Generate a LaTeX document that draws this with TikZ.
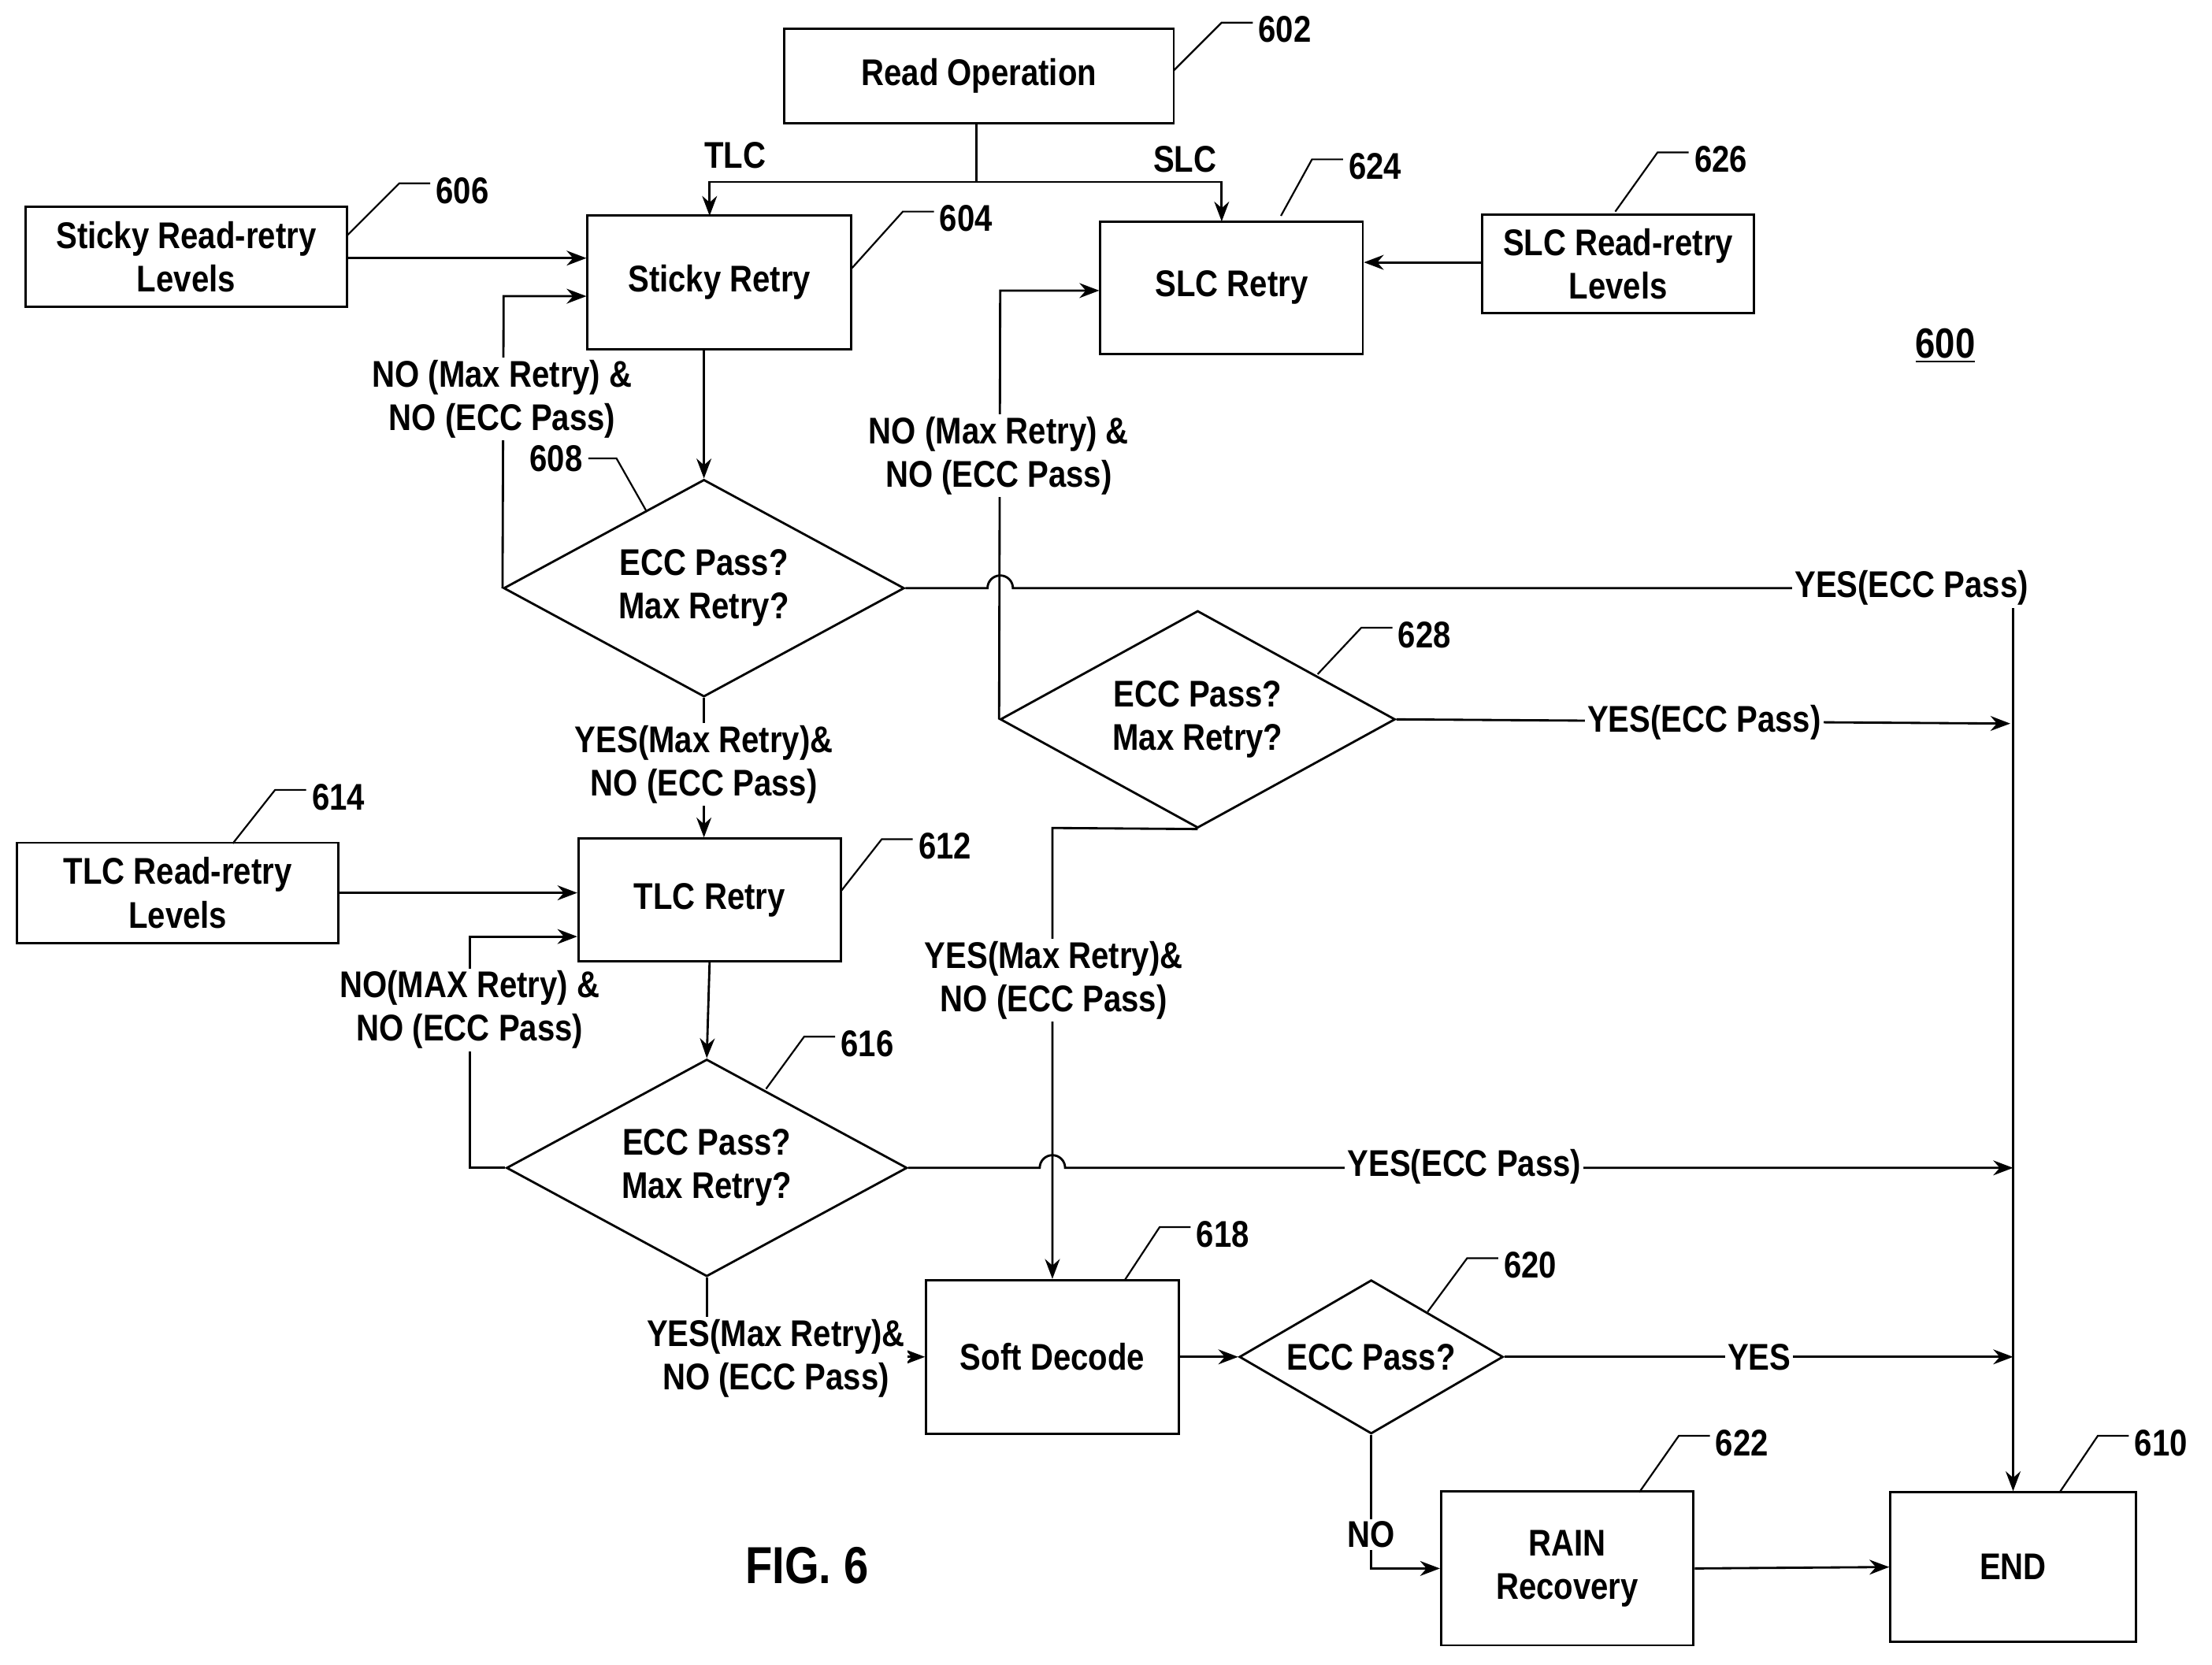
\documentclass[tikz,border=0pt]{standalone}
\usepackage{fontspec}
\setmainfont{Liberation Sans}[FakeStretch=0.85]
\usetikzlibrary{arrows.meta,shapes.geometric}
\begin{document}
\begin{tikzpicture}[x=0.02cm,y=-0.02cm,line width=0.9pt,
  font=\fontsize{15}{17.5}\selectfont\bfseries,
  box/.style={draw,rectangle,align=center},
  dec/.style={draw,diamond,aspect=1.85,align=center,inner sep=0pt},
  lbl/.style={fill=white,align=center,inner sep=1pt},
  arr/.style={-{Stealth[length=8pt,width=6pt]}}]
\useasboundingbox (0,0) rectangle (1568,1180);

% boxes
\node[box,minimum width=276*0.02cm,minimum height=67*0.02cm] (read) at (694,54) {Read Operation};
\node[box,minimum width=187*0.02cm,minimum height=95*0.02cm] (sticky) at (510,200) {Sticky Retry};
\node[box,minimum width=186*0.02cm,minimum height=94*0.02cm] (slc) at (873,204) {SLC Retry};
\node[box,minimum width=228*0.02cm,minimum height=71*0.02cm] (stlev) at (132,182) {Sticky Read-retry\\Levels};
\node[box,minimum width=193*0.02cm,minimum height=70*0.02cm] (slclev) at (1147,187) {SLC Read-retry\\Levels};
\node[box,minimum width=186*0.02cm,minimum height=87*0.02cm] (tlc) at (503,638) {TLC Retry};
\node[box,minimum width=228*0.02cm,minimum height=71*0.02cm] (tlclev) at (126,633) {TLC Read-retry\\Levels};
\node[box,minimum width=179*0.02cm,minimum height=109*0.02cm] (soft) at (746,962) {Soft Decode};
\node[box,minimum width=179*0.02cm,minimum height=109*0.02cm] (rain) at (1111,1112) {RAIN\\Recovery};
\node[box,minimum width=174*0.02cm,minimum height=106*0.02cm] (end) at (1427,1111) {END};

% decisions
\node[dec,minimum width=284*0.02cm,minimum height=154*0.02cm] (d608) at (499,417) {ECC Pass?\\Max Retry?};
\node[dec,minimum width=280*0.02cm,minimum height=154*0.02cm] (d628) at (849,510) {ECC Pass?\\Max Retry?};
\node[dec,minimum width=284*0.02cm,minimum height=154*0.02cm] (d616) at (501,828) {ECC Pass?\\Max Retry?};
\node[dec,minimum width=187*0.02cm,minimum height=109*0.02cm,aspect=1.7] (d620) at (972,962) {ECC Pass?};

\node[font=\fontsize{17}{20}\selectfont\bfseries] (fig) at (1379,245) {\underline{600}};
\node[font=\fontsize{21}{25}\selectfont\bfseries] (figno) at (572,1110) {FIG. 6};

% connectors
\coordinate (split) at (692,129);
\draw (read.south -| split) -- (split);
\draw[arr] (split) -- (503,129) -- (503,153);
\draw[arr] (split) -- (866,129) -- (866,157);
\node (ltlc) at (521,110) {TLC};
\node (lslc) at (840,113) {SLC};
\draw[arr] (stlev.east |- 0,183) -- (sticky.west |- 0,183);
\draw[arr] (slclev.west |- 0,186) -- (slc.east |- 0,186);
\draw[arr] (499,248) -- (d608.north);
\draw[arr] (d608.west) -- (357,210) -- (sticky.west |- 0,210);
\node[lbl] (l1) at (356,283) {NO (Max Retry) \&\\NO (ECC Pass)};
\draw (d608.east) -- (700,417) arc[start angle=180,end angle=360,radius=9] -- (1427,417);
\draw[arr] (1427,417) -- (end.north);
\node[lbl] (l2) at (1355,417) {YES(ECC Pass)};
\draw[arr] (d608.south) -- (tlc.north -| d608.south);
\node[lbl] (l3) at (499,542) {YES(Max Retry)\&\\NO (ECC Pass)};
\draw[arr] (d628.west) -- (709,206) -- (slc.west |- 0,206);
\node[lbl] (l4) at (708,323) {NO (Max Retry) \&\\NO (ECC Pass)};
\draw[arr] (d628.east) -- (1425,513);
\node[lbl] (l5) at (1208,512) {YES(ECC Pass)};
\draw[arr] (d628.south) -- (746,587) -- (soft.north);
\node[lbl] (l6) at (747,695) {YES(Max Retry)\&\\NO (ECC Pass)};
\draw[arr] (tlclev.east |- 0,633) -- (tlc.west |- 0,633);
\draw[arr] (503,682) -- (d616.north);
\draw[arr] (d616.west) -- (333,828) -- (333,664) -- (tlc.west |- 0,664);
\node[lbl] (l7) at (333,716) {NO(MAX Retry) \&\\NO (ECC Pass)};
\draw[arr] (d616.east) -- (737,828) arc[start angle=180,end angle=360,radius=9] -- (1427,828);
\node[lbl] (l8) at (1038,827) {YES(ECC Pass)};
\draw[arr] (d616.south) |- (soft.west);
\node[lbl] (l9) at (550,963) {YES(Max Retry)\&\\NO (ECC Pass)};
\draw[arr] (soft.east) -- (d620.west);
\draw[arr] (d620.east) -- (1427,962);
\node[lbl] (l10) at (1247,962) {YES};
\draw[arr] (d620.south) |- (rain.west);
\node[lbl] (l11) at (972,1088) {NO};
\draw[arr] (rain.east) -- (end.west);

% reference numerals
\foreach \sx/\sy/\ex/\ey/\tx/\ty/\t in {832/50/866/16/915/22/602, 604/190/640/150/685/155/604,
  246/167/283/130/333/137/606, 908/153/930/113/987/119/624, 1145/150/1175/108/1224/115/626,
  934/478/965/445/1013/450/628, 165/598/195/560/243/566/614, 596/632/625/595/675/600/612,
  543/772/570/735/621/740/616, 797/908/822/870/875/875/618, 1012/930/1040/892/1090/897/620,
  1162/1058/1190/1018/1240/1024/622, 1460/1058/1487/1018/1538/1024/610}
  \draw[line width=0.7pt] (\sx,\sy) -- (\ex,\ey) -- ++(22,0) node[right,inner sep=2pt,anchor=west,yshift=-0.1cm] {\t};
\draw[line width=0.7pt] (458,362) -- (437,325) -- (417,325) node[left,inner sep=2pt] {608};
\end{tikzpicture}
\end{document}
